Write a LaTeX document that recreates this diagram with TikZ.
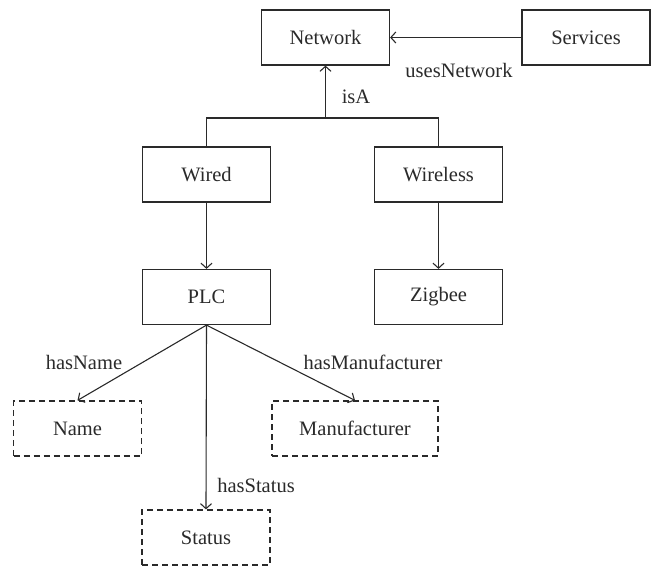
\documentclass[tikz,border=0pt]{standalone}
\usepackage{fontspec}
\setmainfont{Liberation Serif}
\usetikzlibrary{arrows.meta}
\definecolor{ink}{HTML}{2A2A2A}
\tikzset{
  x=1pt, y=-1pt,
  box/.style={draw=ink, line width=1.2pt, minimum width=128pt, minimum height=55pt,
    inner sep=0pt, text=ink, font=\fontsize{20.5}{24}\selectfont},
  dbox/.style={box, dash pattern=on 6pt off 4pt},
  link/.style={draw=ink, line width=1.1pt, -{Straight Barb[length=5pt,width=11pt,line width=1.1pt]}},
  lbl/.style={text=ink, font=\fontsize{20.5}{24}\selectfont, inner sep=0pt},
}
\begin{document}
\begin{tikzpicture}
\useasboundingbox (0,0) rectangle (654,567);
% class nodes
\node[box] (network) at (325.5,37.5) {Network};
\node[box] (services) at (586,37.5) {Services};
\node[box] (wired) at (206.5,174.5) {Wired};
\node[box] (wireless) at (438.5,174.5) {Wireless};
\node[box] (plc) at (206.5,297) {PLC};
\node[box] (zigbee) at (438.5,297) {Zigbee};
% attribute nodes
\node[dbox] (name) at (77.5,428.5) {Name};
\node[dbox, minimum width=166pt] (manuf) at (355,428.5) {Manufacturer};
\node[dbox] (status) at (206,537.5) {Status};
% inheritance tree
\coordinate (fork) at (network.south |- 0,118);
\draw[draw=ink, line width=1.1pt] (wired.north) |- (fork) -| (wireless.north);
\draw[link] (fork) -- (network.south);
\node[lbl] (isa) at (356,97) {isA};
% relations
\draw[link] (services.west) -- (network.east);
\node[lbl] (uses) at (459,70) {usesNetwork};
\draw[link] (wired.south) -- (plc.north);
\draw[link] (wireless.south) -- (zigbee.north);
\draw[link] (plc.south) -- (name.north);
\draw[link] (plc.south) -- (manuf.north);
\draw[link] (plc.south) -- (status.north);
\node[lbl] (hasname) at (84,362) {hasName};
\node[lbl] (hasmanuf) at (373,362) {hasManufacturer};
\node[lbl] (hasstatus) at (256,485) {hasStatus};
\end{tikzpicture}
\end{document}
